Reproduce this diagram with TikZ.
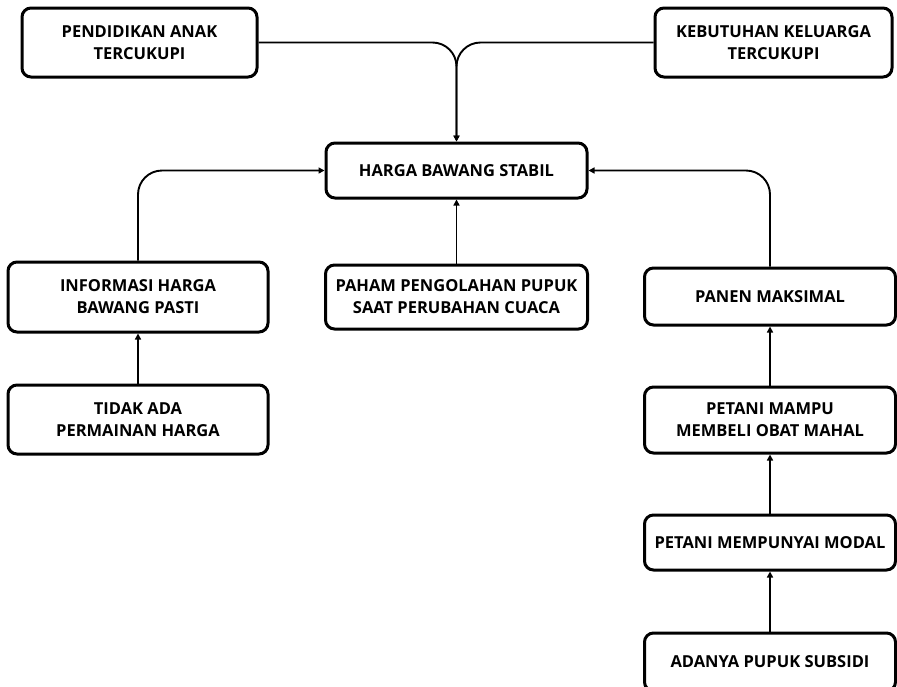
\documentclass[tikz,border=0pt]{standalone}
\usepackage{fontspec}
\setmainfont{Open Sans}
\usetikzlibrary{arrows.meta}

\begin{document}
\begin{tikzpicture}[x = 1pt, y = -1pt, font = \bfseries\fontsize{16.5}{22}\selectfont,
		box/.style = {draw, line width = 3pt, rounded corners = 9pt, align = center, inner sep = 0pt},
		link/.style = {line width = 1.9pt, rounded corners = 24pt, -{Triangle[length = 6pt, width = 6pt]}}]
		\def\mywide{260pt}
		\def\myright{251pt}
		\useasboundingbox (0,0) rectangle (897,686);
		%--------------------

		\node[box, minimum width = 235pt, minimum height = 69pt] (pendidikan) at (139.5,42.5) {PENDIDIKAN ANAK\\TERCUKUPI};
		\node[box, minimum width = 237pt, minimum height = 69pt] (kebutuhan) at (773.5,42.5) {KEBUTUHAN KELUARGA\\TERCUKUPI};
		\node[box, minimum width = 261pt, minimum height = 55pt] (harga) at (456.5,170.5) {HARGA BAWANG STABIL};

		%--------------------
		\node[box, minimum width = \mywide, minimum height = 70pt] (informasi) at (138,297) {INFORMASI HARGA\\BAWANG PASTI};
		\node[box, minimum width = \mywide, minimum height = 69pt] (tidakada) at (138,419.5) {TIDAK ADA\\PERMAINAN HARGA};
		\node[box, minimum width = 262pt, minimum height = 64pt] (paham) at (456.5,297) {PAHAM PENGOLAHAN PUPUK\\SAAT PERUBAHAN CUACA};

		%--------------------
		\node[box, minimum width = \myright, minimum height = 57pt] (panen) at (770,296.5) {PANEN MAKSIMAL};
		\node[box, minimum width = \myright, minimum height = 66pt] (obat) at (770,420) {PETANI MAMPU\\MEMBELI OBAT MAHAL};
		\node[box, minimum width = \myright, minimum height = 55pt] (modal) at (770,542.5) {PETANI MEMPUNYAI MODAL};
		\node[box, minimum width = \myright, minimum height = 58pt] (subsidi) at (770,662) {ADANYA PUPUK SUBSIDI};

		%--------------------
		\draw[link] (pendidikan.east) -| (harga.north);
		\draw[link] (kebutuhan.west) -| (harga.north);
		\draw[link] (informasi.north) |- (harga.west);
		\draw[link] (panen.north) |- (harga.east);
		\draw[link] (paham.north) -- (harga.south);
		\draw[link] (tidakada.north) -- (informasi.south);
		\draw[link] (obat.north) -- (panen.south);
		\draw[link] (modal.north) -- (obat.south);
		\draw[link] (subsidi.north) -- (modal.south);
	\end{tikzpicture}
\end{document}
